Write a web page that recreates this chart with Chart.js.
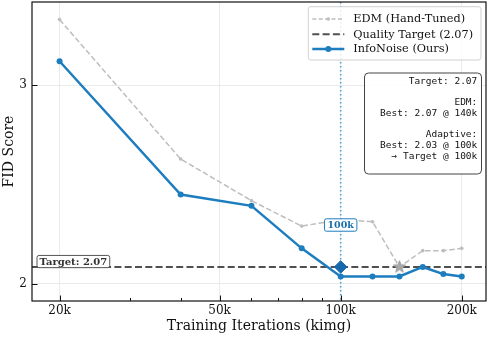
<!DOCTYPE html>
<html>
<head>
<meta charset="utf-8">
<script src="https://cdn.jsdelivr.net/npm/chart.js@4.4.0/dist/chart.umd.min.js"></script>
<style>
  html, body { margin:0; padding:0; background:#fff; }
  #wrap { width:488px; height:337px; position:relative; }
</style>
</head>
<body>
<div id="wrap"><canvas id="c" width="488" height="337"></canvas></div>
<script>
// ---- data ----
const iterations   = [20000, 40000, 60000, 80000, 100000, 120000, 140000, 160000, 180000, 200000];
const edmFid       = [3.43, 2.58, 2.37, 2.25, 2.28, 2.27, 2.07, 2.14, 2.14, 2.15];
const infoNoiseFid = [3.15, 2.40, 2.345, 2.15, 2.03, 2.03, 2.03, 2.07, 2.04, 2.03];
const targetFid = 2.07;
const edmBestIter = 140000;
const reachIter = 100000;
const xTicks = [20000, 50000, 100000, 200000];
const xMinorTicks = [30000, 40000, 60000, 70000, 80000, 90000];
const yTicks = [2, 3];
const xRange = [17080, 229800];
const yRange = [1.931, 3.555];
const legendLabels = ['EDM (Hand-Tuned)', 'Quality Target (2.07)', 'InfoNoise (Ours)'];
const infoLines = ['Target: 2.07', '', 'EDM:', 'Best: 2.07 @ 140k', '', 'Adaptive:', 'Best: 2.03 @ 100k', '\u2192 Target @ 100k'];

const BLUE = '#1d7dbf';
const GRAY = '#bdbdbd';
const SERIF = '"DejaVu Serif", serif';
const MONO = '"DejaVu Sans Mono", monospace';

// star marker image
function makeStar(r, fill, stroke) {
  const c = document.createElement('canvas');
  const s = Math.ceil(r * 2 + 4);
  c.width = s; c.height = s;
  const g = c.getContext('2d');
  g.beginPath();
  for (let i = 0; i < 10; i++) {
    const rad = i % 2 === 0 ? r : r * 0.42;
    const a = -Math.PI / 2 + i * Math.PI / 5;
    const px = s / 2 + rad * Math.cos(a), py = s / 2 + rad * Math.sin(a);
    if (i === 0) g.moveTo(px, py); else g.lineTo(px, py);
  }
  g.closePath();
  g.fillStyle = fill; g.fill();
  g.strokeStyle = stroke; g.lineWidth = 0.8; g.stroke();
  return c;
}
const starImg = makeStar(6.5, '#a8a8a8', '#9a9a9a');

const idxEdmBest = iterations.indexOf(edmBestIter);

function zeroPad(s) { s.paddingTop = 0; s.paddingBottom = 0; s.paddingLeft = 0; s.paddingRight = 0; }

const framePlugin = {
  id: 'frame',
  beforeDatasetsDraw(chart) {
    const {ctx, chartArea: a, scales: {x}} = chart;
    const px = x.getPixelForValue(reachIter);
    ctx.save();
    ctx.strokeStyle = '#4fa3d8';
    ctx.lineWidth = 1.6;
    ctx.setLineDash([1.6, 2.4]);
    ctx.beginPath(); ctx.moveTo(px, a.top); ctx.lineTo(px, a.bottom); ctx.stroke();
    ctx.restore();
  },
  afterDatasetsDraw(chart) {
    const {ctx, chartArea: a, scales: {x, y}} = chart;
    ctx.save();
    // frame
    ctx.strokeStyle = '#111'; ctx.lineWidth = 1.2; ctx.setLineDash([]);
    ctx.strokeRect(a.left, a.top, a.right - a.left, a.bottom - a.top);
    // ticks inward
    ctx.lineWidth = 1;
    ctx.beginPath();
    xTicks.forEach(v => { const p = Math.round(x.getPixelForValue(v)) + 0.5; ctx.moveTo(p, a.bottom); ctx.lineTo(p, a.bottom - 5.5); });
    xMinorTicks.forEach(v => { const p = Math.round(x.getPixelForValue(v)) + 0.5; ctx.moveTo(p, a.bottom); ctx.lineTo(p, a.bottom - 3); });
    yTicks.forEach(v => { const p = Math.round(y.getPixelForValue(v)) + 0.5; ctx.moveTo(a.left, p); ctx.lineTo(a.left + 5.5, p); });
    ctx.stroke();

    function roundRect(x0, y0, w, h, r) {
      ctx.beginPath();
      ctx.moveTo(x0 + r, y0); ctx.lineTo(x0 + w - r, y0); ctx.arcTo(x0 + w, y0, x0 + w, y0 + r, r);
      ctx.lineTo(x0 + w, y0 + h - r); ctx.arcTo(x0 + w, y0 + h, x0 + w - r, y0 + h, r);
      ctx.lineTo(x0 + r, y0 + h); ctx.arcTo(x0, y0 + h, x0, y0 + h - r, r);
      ctx.lineTo(x0, y0 + r); ctx.arcTo(x0, y0, x0 + r, y0, r);
      ctx.closePath();
    }

    // "100k" label
    const lx = x.getPixelForValue(reachIter);
    const ly = y.getPixelForValue(2.255);
    ctx.font = 'bold 9.5px ' + SERIF;
    let tw = ctx.measureText('100k').width;
    roundRect(lx - tw / 2 - 3, ly - 6.2, tw + 6, 12.4, 2);
    ctx.fillStyle = '#fff'; ctx.fill();
    ctx.strokeStyle = BLUE; ctx.lineWidth = 1; ctx.stroke();
    ctx.fillStyle = '#1a6fae'; ctx.textAlign = 'center'; ctx.textBaseline = 'middle';
    ctx.fillText('100k', lx, ly + 0.5);

    // "Target: 2.07" label
    const ty = y.getPixelForValue(targetFid);
    ctx.font = 'bold 10px ' + SERIF;
    tw = ctx.measureText('Target: 2.07').width;
    const tx0 = a.left + 5;
    roundRect(tx0, ty - 11.5, tw + 5, 12.2, 2);
    ctx.fillStyle = '#fff'; ctx.fill();
    ctx.strokeStyle = '#444'; ctx.lineWidth = 0.9; ctx.stroke();
    ctx.fillStyle = '#333'; ctx.textAlign = 'left';
    ctx.fillText('Target: 2.07', tx0 + 2.5, ty - 5);

    // legend
    const L = { x: a.right - 177.7, y: a.top + 4.7, w: 172.7, h: 53.3 };
    roundRect(L.x, L.y, L.w, L.h, 2.5);
    ctx.fillStyle = 'rgba(255,255,255,0.85)'; ctx.fill();
    ctx.strokeStyle = '#d0d0d0'; ctx.lineWidth = 1; ctx.stroke();
    const rows = [L.y + 12.3, L.y + 27.6, L.y + 42.3];
    const sx0 = L.x + 4, sx1 = L.x + 36;
    // EDM sample
    ctx.strokeStyle = GRAY; ctx.lineWidth = 1.5; ctx.setLineDash([4, 2.4]);
    ctx.beginPath(); ctx.moveTo(sx0, rows[0]); ctx.lineTo(sx1, rows[0]); ctx.stroke();
    ctx.setLineDash([]);
    ctx.fillStyle = GRAY; ctx.beginPath(); ctx.arc((sx0 + sx1) / 2, rows[0], 1.8, 0, Math.PI * 2); ctx.fill();
    // target sample
    ctx.strokeStyle = '#505050'; ctx.lineWidth = 2; ctx.setLineDash([7, 3.3]);
    ctx.beginPath(); ctx.moveTo(sx0, rows[1]); ctx.lineTo(sx1, rows[1]); ctx.stroke();
    ctx.setLineDash([]);
    // InfoNoise sample
    ctx.strokeStyle = BLUE; ctx.lineWidth = 2.5;
    ctx.beginPath(); ctx.moveTo(sx0, rows[2]); ctx.lineTo(sx1, rows[2]); ctx.stroke();
    ctx.fillStyle = BLUE; ctx.beginPath(); ctx.arc((sx0 + sx1) / 2, rows[2], 3, 0, Math.PI * 2); ctx.fill();
    ctx.font = '11.3px ' + SERIF; ctx.fillStyle = '#111'; ctx.textAlign = 'left'; ctx.textBaseline = 'middle';
    legendLabels.forEach((t, i) => ctx.fillText(t, L.x + 45, rows[i] + 0.5));

    // info box
    const B = { x: a.right - 121.5, y: a.top + 71, w: 117, h: 101 };
    roundRect(B.x, B.y, B.w, B.h, 4);
    ctx.fillStyle = 'rgba(255,255,255,0.9)'; ctx.fill();
    ctx.strokeStyle = '#444'; ctx.lineWidth = 1; ctx.stroke();
    ctx.font = '9.5px ' + MONO; ctx.fillStyle = '#111'; ctx.textAlign = 'right';
    infoLines.forEach((t, i) => { if (t) ctx.fillText(t, B.x + B.w - 4.2, B.y + 8.5 + i * 10.65); });
    ctx.restore();
  }
};

const ctx = document.getElementById('c').getContext('2d');
new Chart(ctx, {
  type: 'line',
  data: {
    datasets: [
      {
        label: legendLabels[0],
        data: iterations.map((v, i) => ({ x: v, y: edmFid[i] })),
        borderColor: GRAY, backgroundColor: GRAY,
        borderWidth: 1.5, borderDash: [5.5, 2.6],
        pointRadius: 1.8, pointBorderWidth: 0, pointBackgroundColor: GRAY,
        tension: 0, order: 4
      },
      {
        label: legendLabels[1],
        data: [{ x: xRange[0], y: targetFid }, { x: xRange[1], y: targetFid }],
        borderColor: '#505050', borderWidth: 2, borderDash: [7, 3.3],
        pointRadius: 0, order: 3
      },
      {
        label: legendLabels[2],
        data: iterations.map((v, i) => ({ x: v, y: infoNoiseFid[i] })),
        borderColor: BLUE, backgroundColor: BLUE,
        borderWidth: 2.5, pointRadius: 3, pointBorderWidth: 0, pointBackgroundColor: BLUE,
        tension: 0, order: 2
      },
      {
        label: 'EDM best',
        data: [{ x: iterations[idxEdmBest], y: edmFid[idxEdmBest] }],
        showLine: false, pointStyle: starImg, pointRadius: 7, order: 1
      },
      {
        label: 'Target reached',
        data: [{ x: reachIter, y: targetFid }],
        showLine: false, pointStyle: 'rectRot', pointRadius: 6.3,
        pointBackgroundColor: '#1769ad', pointBorderColor: '#1769ad', pointBorderWidth: 1, order: 0
      }
    ]
  },
  options: {
    responsive: false, animation: false,
    layout: { autoPadding: false, padding: { top: 2, right: 2, left: 0, bottom: 0 } },
    plugins: { legend: { display: false }, tooltip: { enabled: false } },
    scales: {
      x: {
        type: 'logarithmic', min: xRange[0], max: xRange[1],
        afterBuildTicks: s => { s.ticks = xTicks.map(v => ({ value: v })); },
        afterFit: s => { s.height = 36; zeroPad(s); },
        ticks: { callback: v => (v / 1000) + 'k', font: { family: SERIF, size: 12 }, color: '#111', padding: 3, maxRotation: 0, autoSkip: false },
        grid: { color: '#e4e4e4', lineWidth: 0.8, drawTicks: false },
        border: { display: false },
        title: { display: true, text: 'Training Iterations (kimg)', font: { family: SERIF, size: 14 }, color: '#111', padding: { top: 0, bottom: 2.5 } }
      },
      y: {
        type: 'logarithmic', min: yRange[0], max: yRange[1],
        afterBuildTicks: s => { s.ticks = yTicks.map(v => ({ value: v })); },
        afterFit: s => { s.width = 32; zeroPad(s); },
        ticks: { callback: v => String(v), font: { family: SERIF, size: 12 }, color: '#111', padding: 5 },
        grid: { color: '#e4e4e4', lineWidth: 0.8, drawTicks: false },
        border: { display: false },
        title: { display: true, text: 'FID Score', font: { family: SERIF, size: 14 }, color: '#111', padding: { top: 1, bottom: 0 } }
      }
    }
  },
  plugins: [framePlugin]
});
</script>
</body>
</html>
